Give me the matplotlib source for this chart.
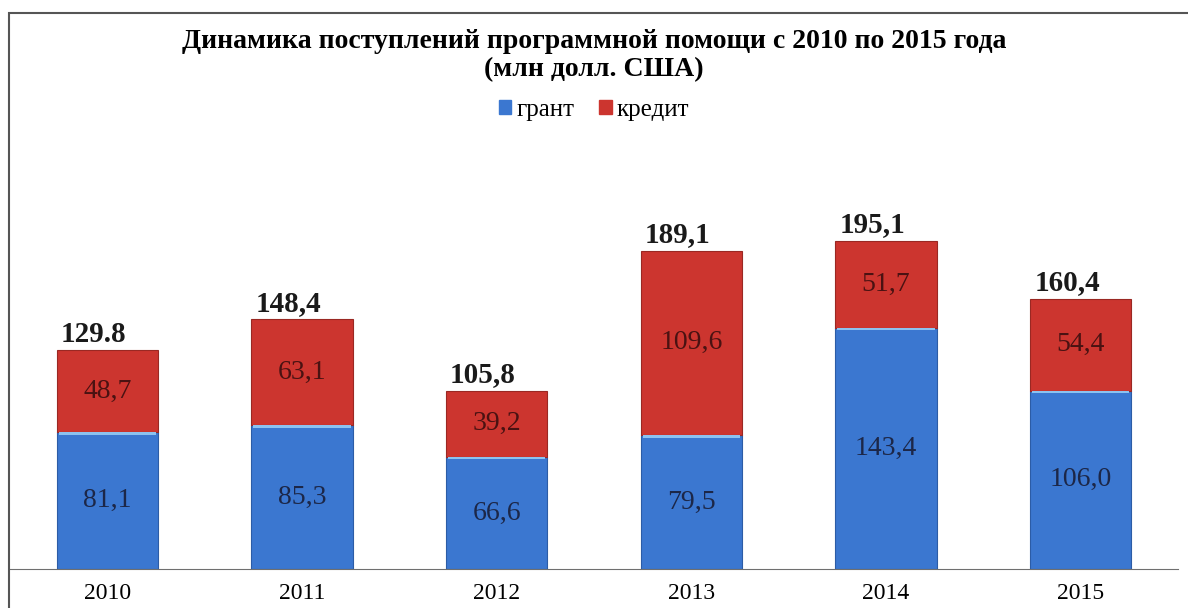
import matplotlib

matplotlib.use("Agg")
import matplotlib.pyplot as plt
from matplotlib.patches import Rectangle

years = ["2010", "2011", "2012", "2013", "2014", "2015"]
grant = [81.1, 85.3, 66.6, 79.5, 143.4, 106.0]
credit = [48.7, 63.1, 39.2, 109.6, 51.7, 54.4]
total_labels = ["129.8", "148,4", "105,8", "189,1", "195,1", "160,4"]

BLUE = "#3b77d0"
RED = "#cc352f"
SERIF = "Liberation Serif"

fig = plt.figure(figsize=(11.88, 6.08), dpi=100)
fig.patch.set_facecolor("white")
ax = fig.add_axes([10 / 1188, 39 / 608, 1168 / 1188, 532 / 608])

x = range(len(years))
ax.bar(x, grant, width=0.52, color=BLUE, edgecolor="#2c5ca6", linewidth=0.8)
ax.bar(x, credit, width=0.52, bottom=grant, color=RED, edgecolor="#9a2823", linewidth=0.8)
# thin light strip at the top of the blue segment
ax.bar(x, [1.5] * len(x), width=0.50, bottom=[g - 1.5 for g in grant],
       color="#8cc2f0", linewidth=0)

for i, (g, c, t) in enumerate(zip(grant, credit, total_labels)):
    ax.text(i, g / 2, f"{g:.1f}".replace(".", ","), ha="center", va="center",
            fontsize=20, family=SERIF, color="#1c2748")
    ax.text(i, g + c / 2, f"{c:.1f}".replace(".", ","), ha="center", va="center",
            fontsize=20, family=SERIF, color="#4a1212")
    ax.text(i - 0.07, g + c + 1.5, t, ha="center", va="bottom",
            fontsize=21, family=SERIF, fontweight="bold", color="#1a1a1a")

ax.set_xlim(-0.5, 5.5)
ax.set_ylim(0, 316)
ax.set_xticks(list(x))
ax.set_xticklabels(years, family=SERIF, fontsize=17)
ax.tick_params(axis="x", length=0, pad=10)
ax.set_yticks([])
for side in ("top", "left", "right"):
    ax.spines[side].set_visible(False)
ax.spines["bottom"].set_color("#6f6f6f")

fig.text(0.5, 1 - 42 / 608, "Динамика поступлений программной помощи с 2010 по 2015 года",
         ha="center", va="center", fontsize=20, family=SERIF, fontweight="bold")
fig.text(0.5, 1 - 70 / 608, "(млн долл. США)",
         ha="center", va="center", fontsize=20, family=SERIF, fontweight="bold")

handles = [Rectangle((0, 0), 1, 1, color=BLUE), Rectangle((0, 0), 1, 1, color=RED)]
fig.legend(handles, ["грант", "кредит"], loc="center", bbox_to_anchor=(0.5, 1 - 110 / 608),
           ncol=2, frameon=False, prop={"family": SERIF, "size": 18},
           handlelength=0.5, handleheight=0.5, handletextpad=0.2, columnspacing=1.0)

fig.add_artist(Rectangle((9 / 1188, -0.05), 1.1, 1 - 13 / 608 + 0.05,
                         transform=fig.transFigure, fill=False,
                         edgecolor="#555555", linewidth=1.5))

fig.savefig("out.png", dpi=100)
plt.close(fig)
